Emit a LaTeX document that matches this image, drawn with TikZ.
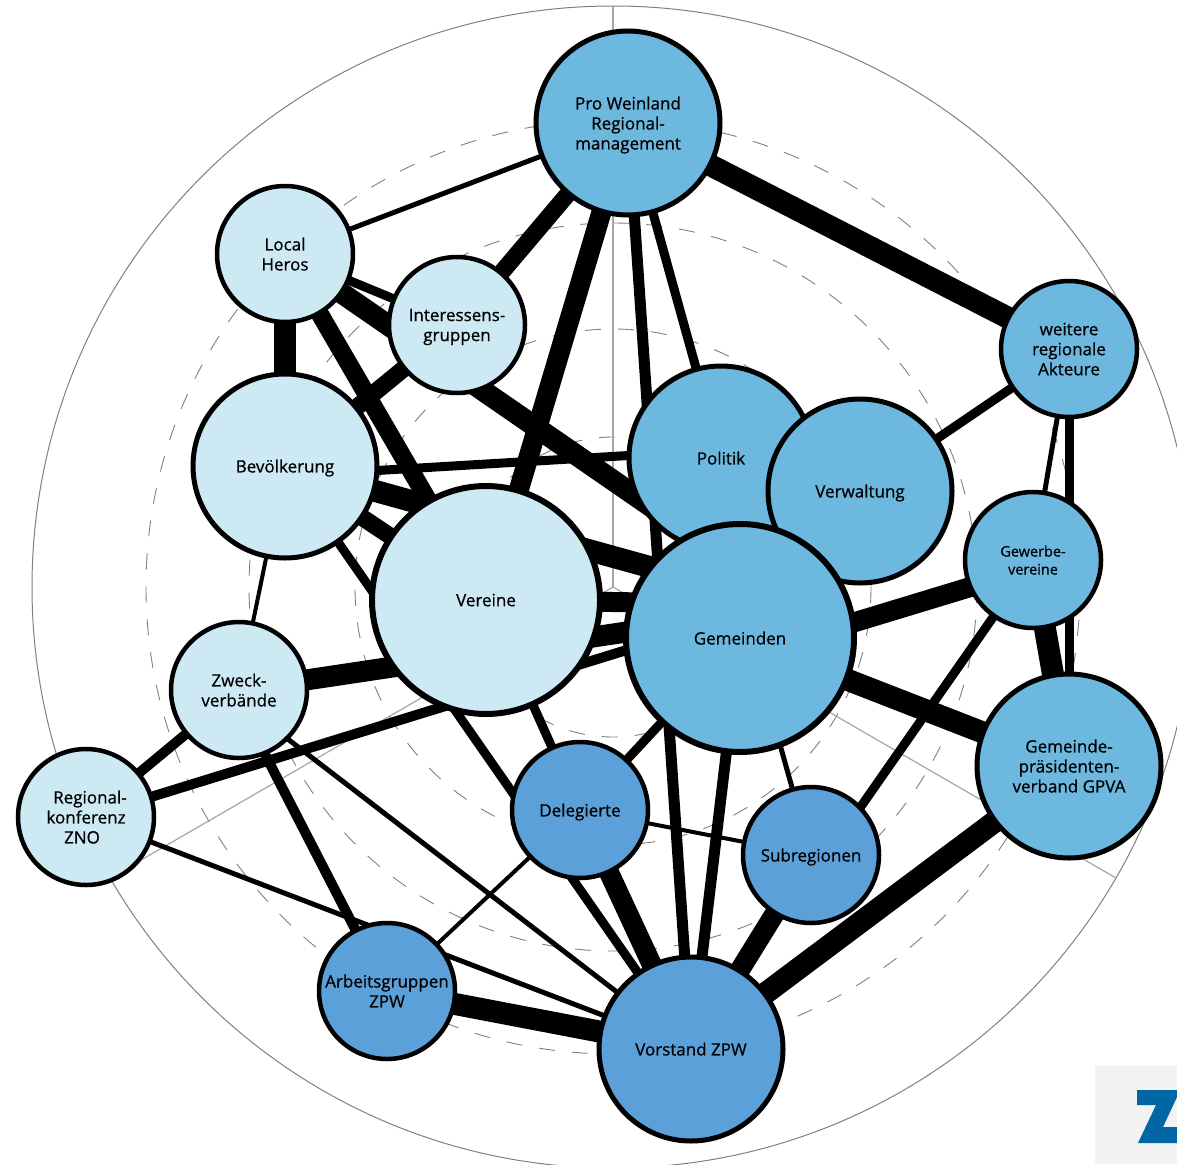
\documentclass[tikz,border=0pt]{standalone}
\usepackage{fontspec}
\setmainfont{Open Sans}[FakeBold=0.6]
\pgfdeclarelayer{rings}
\pgfdeclarelayer{links}
\pgfsetlayers{rings,links,main}
\definecolor{palebl}{HTML}{CDE9F3}
\definecolor{midbl}{HTML}{6CB8DF}
\definecolor{deepbl}{HTML}{5BA0D8}
\definecolor{logobl}{HTML}{0066A4}
\definecolor{logobg}{HTML}{F2F2F2}
\tikzset{
  actor/.style={circle,draw=black,inner sep=0pt,align=center,text=black,text depth=0pt,
    font=\fontsize{17}{20}\selectfont},
  small/.style={actor,line width=4.5pt,minimum size=136pt},
  medium/.style={actor,line width=5pt,minimum size=184pt},
  large/.style={actor,line width=6pt,minimum size=228pt},
  ring/.style={gray,line width=0.9pt,dash pattern=on 16pt off 17pt},
  spoke/.style={black!35,line width=1.2pt},
  link/.style={line cap=butt}
}
\begin{document}
\begin{tikzpicture}[x=1pt,y=-1pt]
\clip (0,0) rectangle (1177,1164);
\coordinate (hub) at (613,587);
\begin{pgfonlayer}{rings}
\fill[logobg] (1095,1066) rectangle (1177,1164);
\fill[logobl] (1137,1090)--(1177,1090)--(1177,1097)--(1163,1127)--(1177,1127)--(1177,1143)--(1138,1143)--(1156,1105)--(1137,1105)--cycle;
\draw[black!50,line width=1pt] (hub) circle (581);
\foreach \r in {150,258,364,467}
  \draw[ring] (hub) circle (\r);
\draw[spoke,line width=2pt] (hub)--(613,6);
\draw[spoke] (hub)--(1116,878);
\draw[spoke] (hub)--(110,878);
\end{pgfonlayer}
% outer ring
\node[medium,fill=midbl] (pro) at (628,123) {Pro Weinland\\Regional-\\management};
\node[small,fill=palebl] (local) at (285,254) {Local\\Heros};
\node[small,fill=palebl] (interessen) at (457,325) {Interessens-\\gruppen};
\node[medium,fill=palebl] (bevoelkerung) at (285,466) {Bevölkerung};
\node[small,fill=midbl] (weitere) at (1069,349) {weitere\\regionale\\Akteure};
\node[small,fill=palebl] (zweck) at (239,690) {Zweck-\\verbände};
\node[small,fill=palebl] (regional) at (86,817) {\hspace*{8pt}Regional-\\konferenz\\ZNO\hspace*{8pt}};
\node[small,fill=midbl,font=\fontsize{14.5}{18}\selectfont] (gewerbe) at (1033,560) {Gewerbe-\\vereine};
\node[medium,fill=midbl] (gpva) at (1069,766) {Gemeinde-\\präsidenten-\\verband GPVA};
% middle
\node[medium,fill=midbl] (politik) at (721,458) {Politik};
\node[medium,fill=midbl] (verwaltung) at (860,491) {Verwaltung};
\node[large,fill=palebl] (vereine) at (486,600) {Vereine};
\node[large,fill=midbl] (gemeinden) at (740,638) {Gemeinden};
% lower
\node[small,fill=deepbl] (delegierte) at (580,810) {Delegierte};
\node[small,fill=deepbl] (subregionen) at (811,855) {Subregionen};
\node[small,fill=deepbl] (arbeit) at (387,991) {Arbeitsgruppen\\ZPW};
\node[medium,fill=deepbl] (vorstand) at (691,1049) {Vorstand ZPW};
% hidden line ends
\coordinate (gemL) at (740,568);
\coordinate (gemB) at (740,592);
\coordinate (gemV) at (740,604);
\coordinate (gemZ) at (740,615);
\coordinate (gemG) at (740,657);
\coordinate (gemS) at (750,638);
\coordinate (gewG) at (1033,568);
\coordinate (zweckV) at (237,700);
\coordinate (subG) at (811,878);
\coordinate (bevP) at (285,476);
\coordinate (polB) at (721,450);
\begin{pgfonlayer}{links}
\foreach \a/\b/\w in {
  pro/local/5, pro/interessen/17, pro/vereine/20, pro/politik/9, pro/weitere/22, pro/vorstand/11,
  local/interessen/9, local/gemL/21, local/bevoelkerung/22, local/vereine/18,
  interessen/bevoelkerung/17,
  bevP/polB/9, bevoelkerung/gemB/22, bevoelkerung/vereine/17, bevoelkerung/vorstand/9, bevoelkerung/zweck/4,
  vereine/gemV/20, vereine/delegierte/9,
  zweck/gemZ/21, regional/gemZ/10, zweck/regional/10, zweckV/arbeit/10, zweckV/vorstand/5,
  regional/vorstand/5,
  delegierte/arbeit/4, delegierte/subregionen/4, delegierte/vorstand/20,
  gemeinden/delegierte/9, gemeinden/vorstand/11, gemS/subregionen/5,
  gemG/gewG/20, gemeinden/gpva/22,
  subregionen/vorstand/20, gpva/vorstand/22, arbeit/vorstand/22,
  gewerbe/gpva/22, gewerbe/subG/9, weitere/gewerbe/5, weitere/gpva/9, verwaltung/weitere/9}
  \draw[link,line width=\w pt] (\a.center)--(\b.center);
\end{pgfonlayer}
\end{tikzpicture}
\end{document}
